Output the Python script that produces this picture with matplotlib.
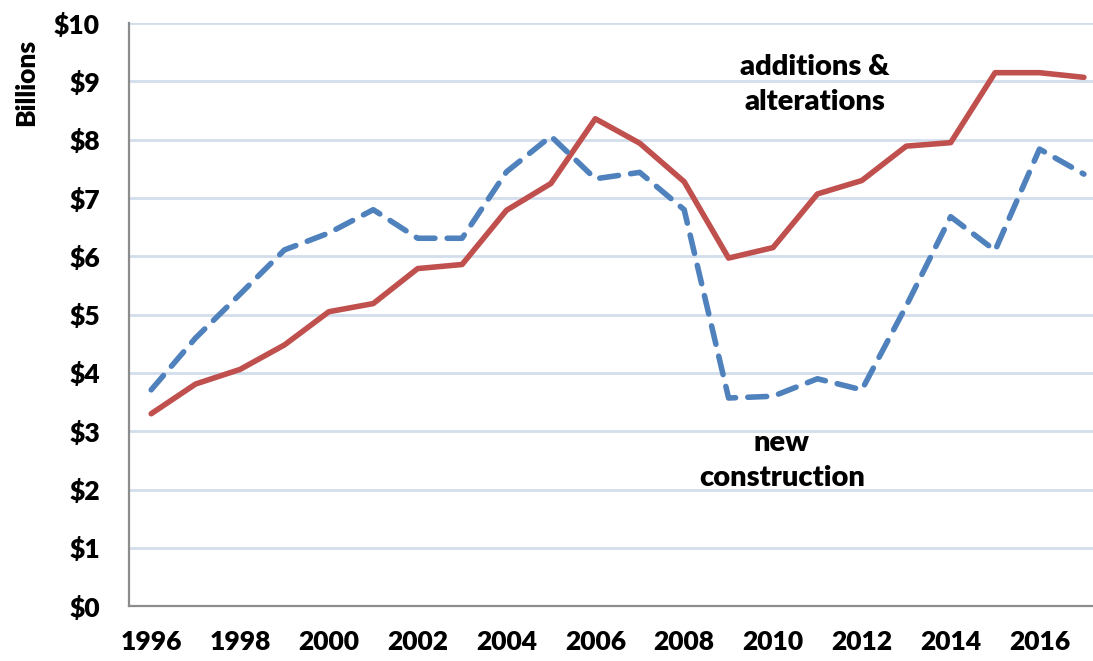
"""Remodeling spending: additions & alterations vs new construction."""

import matplotlib

matplotlib.use("Agg")

import matplotlib.pyplot as plt  # noqa: E402

YEARS = list(range(1996, 2018))
ADDITIONS = [3.30, 3.81, 4.06, 4.48, 5.05, 5.19, 5.79, 5.86, 6.79, 7.25, 8.36,
             7.94, 7.28, 5.97, 6.15, 7.07, 7.30, 7.89, 7.95, 9.15, 9.15, 9.07]
NEW_CONSTRUCTION = [3.71, 4.60, 5.35, 6.11, 6.40, 6.80, 6.31, 6.31, 7.45, 8.06,
                    7.33, 7.44, 6.80, 3.57, 3.60, 3.90, 3.71, 5.15, 6.68, 6.10,
                    7.84, 7.41]
X_TICKS = list(range(1996, 2017, 2))
Y_TICKS = list(range(0, 11))

RED = "#c0504d"
BLUE = "#4f81bd"
FONT = ["Lato", "DejaVu Sans"]

fig = plt.figure(figsize=(10.93, 6.61), dpi=100)
ax = fig.add_axes([0.118, 0.083, 0.894, 0.882])

ax.plot(YEARS, ADDITIONS, color=RED, linewidth=4, solid_capstyle="round",
        zorder=3)
ax.plot(YEARS, NEW_CONSTRUCTION, color=BLUE, linewidth=4, dashes=(3.4, 2.2),
        dash_capstyle="round", zorder=3)

ax.set_xlim(1995.5, 2017.5)
ax.set_ylim(0, 10)
ax.set_xticks(X_TICKS)
ax.set_xticklabels([str(y) for y in X_TICKS])
ax.set_yticks(Y_TICKS)
ax.set_yticklabels([f"${v}" for v in Y_TICKS])
ax.tick_params(length=0, labelsize=19)
ax.tick_params(axis="y", pad=21)
ax.tick_params(axis="x", pad=17)
for lab in ax.get_xticklabels() + ax.get_yticklabels():
    lab.set_fontfamily(FONT)
    lab.set_fontweight("heavy")

ax.yaxis.grid(True, color="#d3deec", linewidth=2)
ax.set_axisbelow(True)
for side in ("top", "right"):
    ax.spines[side].set_visible(False)
for side in ("left", "bottom"):
    ax.spines[side].set_color("#8c8c8c")
    ax.spines[side].set_linewidth(1.6)

fig.text(0.024, 0.875, "Billions", rotation=90, ha="center", va="center",
         fontsize=19, fontweight="heavy", family=FONT)

ax.text(2010.95, 8.95, "additions &\nalterations", ha="center", va="center",
        fontsize=21, fontweight="heavy", family=FONT, linespacing=1.4)
ax.text(2010.2, 2.5, "new\nconstruction", ha="center", va="center",
        fontsize=21, fontweight="heavy", family=FONT, linespacing=1.4)

fig.savefig("out.png", dpi=100)
